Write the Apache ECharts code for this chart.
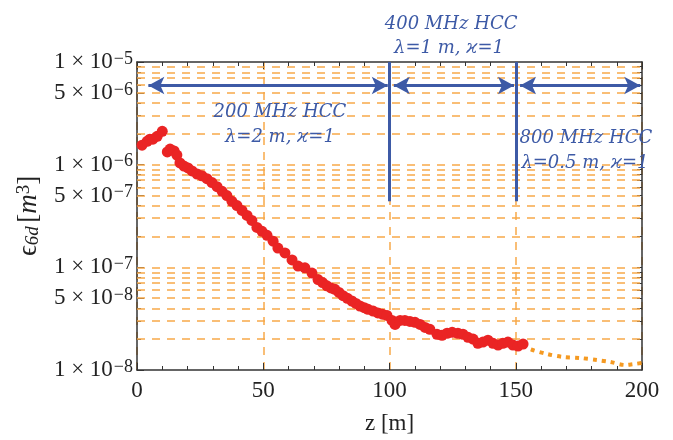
<!DOCTYPE html>
<html><head><meta charset="utf-8">
<script src="https://cdn.jsdelivr.net/npm/echarts@6/dist/echarts.min.js"></script>
<style>html,body{margin:0;padding:0;background:#fff}#c{width:673px;height:440px}</style>
</head><body><div id="c"></div>
<script>
// simulated emittance (red dots)
const zSim = [2,4,5.1,6.3,8,10,12,13.1,14.7,15.8,17,18.6,20.2,21.8,23.8,25.7,27.7,29.7,31.7,33.7,35.6,37.6,39.6,41.6,43.6,45.5,47.5,49.5,51.5,53.9,55.8,58.6,61.4,63.8,66.5,69.3,71.7,73.5,75.2,76.8,78.4,80,81.6,83.3,85.1,86.7,88.3,90,91.5,93.5,95.4,97.2,99,101,102.2,104.2,106.1,108.1,110.1,112.1,114.1,116,118.8,120.8,122.8,124.8,127.1,129.1,131.1,133.1,135,137,139,141,143,144.9,146.9,148.9,150.9,152.9];
const epsSim = [1.55e-6,1.69e-6,1.77e-6,1.77e-6,1.89e-6,2.11e-6,1.33e-6,1.42e-6,1.36e-6,1.24e-6,1.04e-6,9.7e-7,9.3e-7,8.7e-7,8.1e-7,7.8e-7,7.3e-7,6.7e-7,6.1e-7,5.5e-7,5.0e-7,4.4e-7,4.0e-7,3.58e-7,3.2e-7,2.86e-7,2.45e-7,2.24e-7,2.05e-7,1.8e-7,1.54e-7,1.38e-7,1.18e-7,1.03e-7,9.9e-8,8.8e-8,7.6e-8,7.1e-8,6.6e-8,6.3e-8,6.1e-8,5.7e-8,5.3e-8,5.0e-8,4.7e-8,4.45e-8,4.2e-8,4.05e-8,3.9e-8,3.75e-8,3.6e-8,3.5e-8,3.4e-8,3.04e-8,2.78e-8,3.04e-8,3.04e-8,2.97e-8,2.91e-8,2.78e-8,2.6e-8,2.49e-8,2.23e-8,2.18e-8,2.28e-8,2.33e-8,2.28e-8,2.23e-8,2.08e-8,2.0e-8,1.82e-8,1.87e-8,1.95e-8,1.82e-8,1.75e-8,1.82e-8,1.87e-8,1.75e-8,1.71e-8,1.79e-8];
// extrapolated trend (orange dotted)
const zFit = [152.9,155.6,162.4,168.7,175.4,182.2,187.3,193.3,196.4,200];
const epsFit = [1.75e-8,1.60e-8,1.43e-8,1.34e-8,1.31e-8,1.25e-8,1.20e-8,1.12e-8,1.14e-8,1.17e-8];
// axis ticks
const xMin = 0, xMax = 200, xStep = 50;
const yLabelVals = [1e-8,5e-8,1e-7,5e-7,1e-6,5e-6,1e-5];
const gridMant = [1,2,3,4,5,6,7,8,9];
const gridDecades = [-8,-7,-6];
// HCC stage annotations
const boundaries = [100,150];
const boundaryBottom = 4.4e-7;
const stageArrows = [[4.5,99.3],[101.7,149.3],[151.7,199.3]];
const arrowLevel = 5.9e-6;
const annot = [
  {text:'200 MHz HCC', z:56.6, eps:3.22e-6},
  {text:'λ=2 m, ϰ=1', z:56.6, eps:1.85e-6},
  {text:'400 MHz HCC', z:124.4, eps:2.32e-5},
  {text:'λ=1 m, ϰ=1', z:123.6, eps:1.37e-5},
  {text:'800 MHz HCC', z:177.8, eps:1.80e-6},
  {text:'λ=0.5 m, ϰ=1', z:177.4, eps:1.02e-6}
];

const L = Math.log10;
const simData = zSim.map((z,i)=>[z, L(epsSim[i])]);
const fitData = zFit.map((z,i)=>[z, L(epsFit[i])]);
const gridVals = [];
gridDecades.forEach(d=>gridMant.forEach(k=>{ if(!(d===-8 && k===1)) gridVals.push(L(k)+d); }));
const majorVals = yLabelVals.map(L);

const ORANGE = '#f7a94a';
const BLUE = '#3d5aa6';
const SERIF = 'Liberation Serif';

function sciLabel(v){
  const e = Math.floor(v + 1e-9);
  const m = Math.round(Math.pow(10, v - e));
  return '{b|' + m + ' × 10}{s|−' + (-e) + '}';
}
const tickRich = {
  b:{fontFamily:SERIF,fontSize:23,lineHeight:24,color:'#222'},
  s:{fontFamily:SERIF,fontSize:18,lineHeight:10,verticalAlign:'top',color:'#222',padding:[0,0,0,1]}
};

const chart = echarts.init(document.getElementById('c'), null, {renderer:'canvas'});
const gridLines = gridVals.map(v=>({yAxis:v}));
const boundaryLines = boundaries.map(b=>[{coord:[b,-5]},{coord:[b,L(boundaryBottom)]}]);
const arrowLines = stageArrows.map(a=>[{coord:[a[0],L(arrowLevel)]},{coord:[a[1],L(arrowLevel)]}]);

chart.setOption({
  animation:false,
  grid:{left:137,right:31,top:62,bottom:67,containLabel:false},
  xAxis:[{
    type:'value',min:xMin,max:xMax,interval:xStep,position:'bottom',
    axisLine:{show:true,onZero:false,lineStyle:{color:'#333',width:1.5}},
    axisTick:{show:true,inside:true,length:7,lineStyle:{color:'#333'}},
    minorTick:{show:true,splitNumber:5,length:4,lineStyle:{color:'#333'}},
    axisLabel:{fontFamily:SERIF,fontSize:23,color:'#222',margin:9},
    splitLine:{show:true,lineStyle:{color:ORANGE,type:[8,7],width:1.5}},
    name:'z [m]',nameLocation:'middle',nameGap:42,
    nameTextStyle:{fontFamily:SERIF,fontSize:23,color:'#222'}
  },{
    type:'value',min:xMin,max:xMax,interval:xStep,position:'top',
    axisLine:{show:true,onZero:false,lineStyle:{color:'#333',width:1.5}},
    axisTick:{show:true,inside:true,length:7,lineStyle:{color:'#333'}},
    minorTick:{show:true,splitNumber:5,length:4,lineStyle:{color:'#333'}},
    axisLabel:{show:false},splitLine:{show:false}
  }],
  yAxis:[{
    type:'value',min:-8,max:-5,position:'left',
    axisLine:{show:true,onZero:false,lineStyle:{color:'#333',width:1.5}},
    axisTick:{show:true,inside:true,length:7,customValues:majorVals,lineStyle:{color:'#333'}},
    axisLabel:{customValues:majorVals,formatter:sciLabel,rich:tickRich,margin:4},
    splitLine:{show:false},
    name:'{e|ϵ}{sub|6d} {b|[}{i|m}{sup|3}{b|]}',nameLocation:'middle',nameRotate:90,nameGap:92,
    nameTextStyle:{rich:{
      e:{fontFamily:SERIF,fontSize:27,lineHeight:28,color:'#222'},
      sub:{fontFamily:SERIF,fontStyle:'italic',fontSize:19,lineHeight:8,verticalAlign:'bottom',color:'#222'},
      b:{fontFamily:SERIF,fontSize:27,lineHeight:28,color:'#222'},
      i:{fontFamily:SERIF,fontStyle:'italic',fontSize:27,lineHeight:28,color:'#222'},
      sup:{fontFamily:SERIF,fontSize:19,lineHeight:8,verticalAlign:'top',color:'#222'}
    }}
  },{
    type:'value',min:-8,max:-5,position:'right',
    axisLine:{show:true,onZero:false,lineStyle:{color:'#333',width:1.5}},
    axisTick:{show:true,inside:true,length:5,customValues:gridVals,lineStyle:{color:'#333'}},
    axisLabel:{show:false},splitLine:{show:false}
  },{
    type:'value',min:-8,max:-5,position:'left',
    axisLine:{show:false},
    axisTick:{show:true,inside:true,length:4,customValues:gridVals,lineStyle:{color:'#333'}},
    axisLabel:{show:false},splitLine:{show:false}
  }],
  series:[{
    type:'line',data:fitData,xAxisIndex:0,yAxisIndex:0,smooth:0.3,showSymbol:false,symbol:'none',
    lineStyle:{color:'#f59a22',width:4,type:[4,5]},z:3,
    markLine:{silent:true,symbol:'none',label:{show:false},animation:false,
      lineStyle:{color:ORANGE,type:[8,7],width:1.5},data:gridLines,z:1}
  },{
    type:'scatter',data:simData,xAxisIndex:0,yAxisIndex:0,symbol:'circle',symbolSize:11,
    itemStyle:{color:'#ea2424',opacity:1},z:4
  },{
    type:'line',data:[],xAxisIndex:0,yAxisIndex:0,z:5,
    markLine:{silent:true,symbol:'none',label:{show:false},animation:false,
      lineStyle:{color:BLUE,type:'solid',width:3},data:boundaryLines}
  },{
    type:'line',data:[],xAxisIndex:0,yAxisIndex:0,z:5,
    markLine:{silent:true,symbol:['arrow','arrow'],symbolSize:[13,16],label:{show:false},animation:false,
      lineStyle:{color:BLUE,type:'solid',width:3},itemStyle:{color:BLUE},data:arrowLines}
  }]
});
// text annotations placed through the chart's own coordinate conversion
chart.setOption({
  graphic:annot.map(a=>{
    const p = chart.convertToPixel({xAxisIndex:0,yAxisIndex:0},[a.z,L(a.eps)]);
    return {type:'text',x:p[0],y:p[1],z:10,silent:true,
      style:{text:a.text,fill:BLUE,font:'italic 18px "DejaVu Serif", serif',align:'center',verticalAlign:'middle'}};
  })
});
</script></body></html>
